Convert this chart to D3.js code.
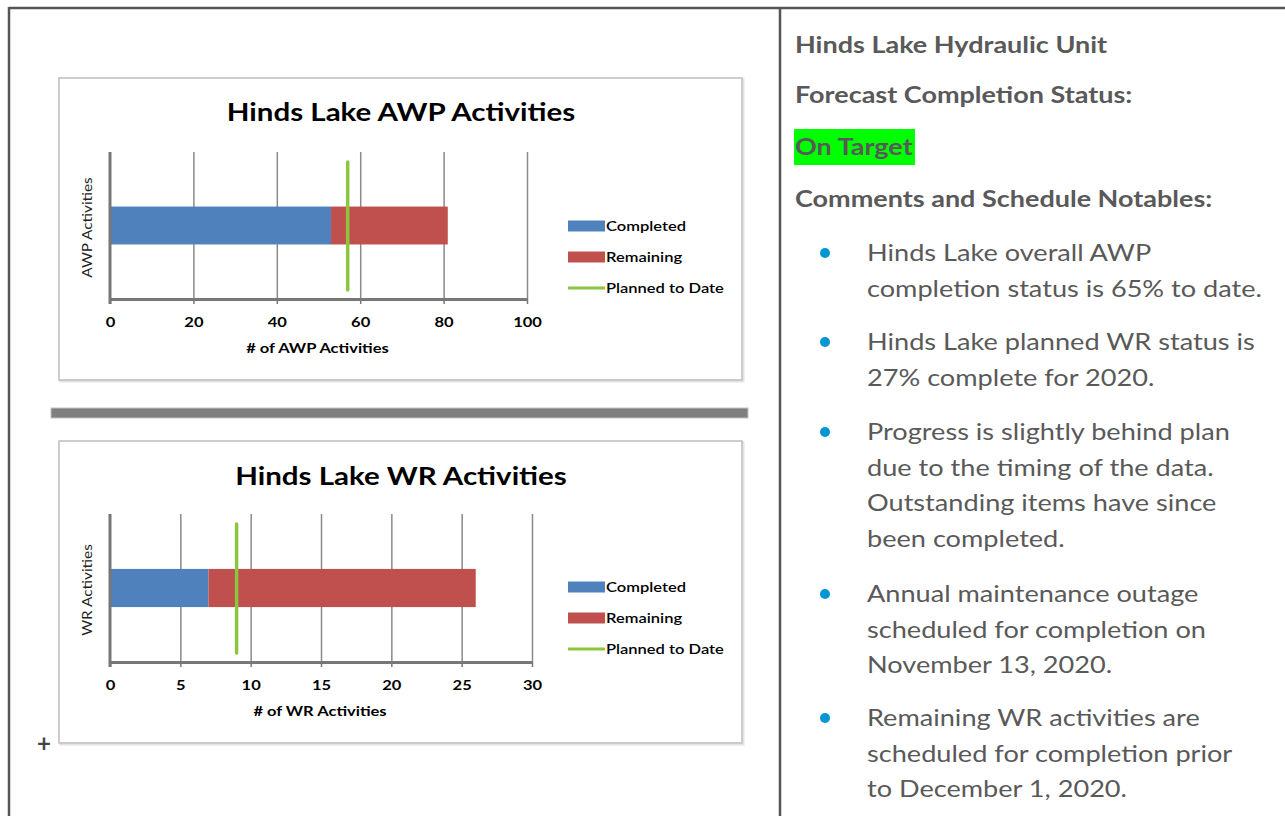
<!DOCTYPE html>
<html>
<head>
<meta charset="utf-8">
<script src="https://cdn.jsdelivr.net/npm/d3@7"></script>
<style>
  body { margin: 0; background: #fff; }
  svg { display: block; font-family: Lato, "Open Sans", sans-serif; }
</style>
</head>
<body>
<svg id="page" width="1285" height="816"></svg>
<script>
// chart data
const seriesNames = ["Completed", "Remaining", "Planned to Date"];
const seriesColors = ["#4f81bd", "#c0504d", "#8cc63f"];

const awpCategory = ["AWP Activities"];
const awpValues = [53, 28];      // completed, remaining
const awpPlanned = [57];
const awpTicks = [0, 20, 40, 60, 80, 100];

const wrCategory = ["WR Activities"];
const wrValues = [7, 19];
const wrPlanned = [9];
const wrTicks = [0, 5, 10, 15, 20, 25, 30];

// side panel text
const headings = ["Hinds Lake Hydraulic Unit", "Forecast Completion Status:", "On Target", "Comments and Schedule Notables:"];
const bullets = [
  ["Hinds Lake overall AWP", "completion status is 65% to date."],
  ["Hinds Lake planned WR status is", "27% complete for 2020."],
  ["Progress is slightly behind plan", "due to the timing of the data.", "Outstanding items have since", "been completed."],
  ["Annual maintenance outage", "scheduled for completion on", "November 13, 2020."],
  ["Remaining WR activities are", "scheduled for completion prior", "to December 1, 2020."]
];

// the reference font runs wider than Lato, so text is stretched sideways
const SX = 1.18;

const svg = d3.select("#page");

function label(parent, x, y, txt, sx) {
  return parent.append("text")
    .attr("transform", `translate(${x},${y}) scale(${sx || SX},1)`)
    .text(txt);
}

// page frame
svg.append("line").attr("x1", 9).attr("x2", 1285).attr("y1", 8).attr("y2", 8)
  .attr("stroke", "#555").attr("stroke-width", 2.5);
svg.append("line").attr("x1", 9).attr("x2", 9).attr("y1", 7).attr("y2", 816)
  .attr("stroke", "#555").attr("stroke-width", 2.5);
svg.append("line").attr("x1", 780).attr("x2", 780).attr("y1", 7).attr("y2", 816)
  .attr("stroke", "#555").attr("stroke-width", 2.5);

// separator between the two charts
svg.append("rect").attr("x", 51).attr("y", 408).attr("width", 697).attr("height", 10)
  .attr("fill", "#7f7f7f").attr("stroke", "#c4c4c4").attr("stroke-width", 1);

svg.append("text").attr("x", 44).attr("y", 752).attr("text-anchor", "middle")
  .attr("font-size", 24).attr("font-weight", "bold").attr("fill", "#444").text("+");

function drawChart(opt) {
  const g = svg.append("g");
  // chart area box
  g.append("rect").attr("x", opt.box[0] + 1.5).attr("y", opt.box[1] + 1.5)
    .attr("width", opt.box[2] - opt.box[0]).attr("height", opt.box[3] - opt.box[1])
    .attr("fill", "none").attr("stroke", "#e3e3e3").attr("stroke-width", 2);
  g.append("rect").attr("x", opt.box[0]).attr("y", opt.box[1])
    .attr("width", opt.box[2] - opt.box[0]).attr("height", opt.box[3] - opt.box[1])
    .attr("fill", "#fff").attr("stroke", "#bdbdbd").attr("stroke-width", 1.5);

  label(g, 401, opt.titleY, opt.title).attr("text-anchor", "middle")
    .attr("font-size", 25).attr("font-weight", "bold").attr("fill", "#000");

  const x = d3.scaleLinear().domain([0, opt.max]).range([opt.x0, opt.x1]);
  const y = d3.scaleBand().domain(opt.category).range([opt.top, opt.bottom]).padding(0.59);

  // gridlines
  g.append("g").attr("transform", `translate(0,${opt.bottom})`)
    .call(d3.axisBottom(x).tickValues(opt.ticks.slice(1)).tickSize(-(opt.bottom - opt.top)).tickFormat(""))
    .call(s => s.select(".domain").remove())
    .call(s => s.selectAll("line").attr("stroke", "#8a8a8a").attr("stroke-width", 1.5));

  // stacked bars
  const stack = d3.stack().keys([0, 1])([opt.values]);
  g.selectAll("rect.bar").data(stack).join("rect").attr("class", "bar")
    .attr("x", d => x(d[0][0]))
    .attr("width", d => x(d[0][1]) - x(d[0][0]))
    .attr("y", y(opt.category[0]))
    .attr("height", y.bandwidth())
    .attr("fill", (d, i) => seriesColors[i]);

  // planned to date marker
  g.selectAll("line.plan").data(opt.planned).join("line").attr("class", "plan")
    .attr("x1", d => x(d)).attr("x2", d => x(d))
    .attr("y1", opt.top + 10).attr("y2", opt.bottom - 9)
    .attr("stroke", seriesColors[2]).attr("stroke-width", 3.5).attr("stroke-linecap", "round");

  // axes
  const xAxis = g.append("g").attr("transform", `translate(0,${opt.bottom})`)
    .call(d3.axisBottom(x).tickValues(opt.ticks).tickSize(5).tickSizeOuter(0).tickPadding(13));
  xAxis.select(".domain").attr("stroke", "#777").attr("stroke-width", 3);
  xAxis.selectAll(".tick line").attr("stroke", "#777").attr("stroke-width", 1.5);
  xAxis.selectAll(".tick text").attr("font-family", "Lato, sans-serif").attr("font-size", 14)
    .attr("font-weight", "bold").attr("fill", "#000").attr("transform", `scale(${SX},1)`);

  g.append("line").attr("x1", opt.x0).attr("x2", opt.x0).attr("y1", opt.top).attr("y2", opt.bottom + 5)
    .attr("stroke", "#777").attr("stroke-width", 3);

  label(g, (opt.x0 + opt.x1) / 2 - 1, opt.bottom + 54, opt.xTitle)
    .attr("text-anchor", "middle").attr("font-size", 14).attr("font-weight", "bold").attr("fill", "#000");

  g.append("text")
    .attr("transform", `translate(92,${(opt.top + opt.bottom) / 2 + 2}) rotate(-90) scale(${SX},1)`)
    .attr("text-anchor", "middle").attr("font-size", 13).attr("fill", "#222").text(opt.category[0]);

  // legend
  const leg = g.selectAll("g.leg").data(seriesNames).join("g").attr("class", "leg")
    .attr("transform", (d, i) => `translate(568,${opt.legendY + i * 31})`);
  leg.each(function (d, i) {
    const s = d3.select(this);
    if (i < 2) {
      s.append("rect").attr("x", 0).attr("y", -5.5).attr("width", 37).attr("height", 11).attr("fill", seriesColors[i]);
    } else {
      s.append("line").attr("x1", 0).attr("x2", 37).attr("y1", 0).attr("y2", 0)
        .attr("stroke", seriesColors[2]).attr("stroke-width", 3);
    }
    label(s, 38, 5, d).attr("font-size", 14).attr("font-weight", 600).attr("fill", "#000");
  });
}

drawChart({
  box: [59, 78, 742, 380], title: "Hinds Lake AWP Activities", titleY: 121,
  x0: 110, x1: 527, top: 152, bottom: 299, max: 100, ticks: awpTicks,
  category: awpCategory, values: awpValues, planned: awpPlanned,
  xTitle: "# of AWP Activities", legendY: 226
});

drawChart({
  box: [59, 441, 742, 743], title: "Hinds Lake WR Activities", titleY: 485,
  x0: 110, x1: 532, top: 514, bottom: 662, max: 30, ticks: wrTicks,
  category: wrCategory, values: wrValues, planned: wrPlanned,
  xTitle: "# of WR Activities", legendY: 587
});

// side panel
const side = svg.append("g").attr("fill", "#595959");
side.append("rect").attr("x", 794).attr("y", 129).attr("width", 121).attr("height", 36).attr("fill", "#00ff00");
const headY = [53, 103, 155, 207];
headings.forEach((t, i) => {
  label(side, 795, headY[i], t, 1.2).attr("font-size", 22.5).attr("font-weight", "bold");
});

const bulletStart = [261, 350, 440, 602, 726];
const lineGap = 35.7;
bullets.forEach((lines, i) => {
  side.append("circle").attr("cx", 825).attr("cy", bulletStart[i] - 8).attr("r", 5).attr("fill", "#0095d5");
  lines.forEach((t, j) => {
    label(side, 867, bulletStart[i] + j * lineGap, t).attr("font-size", 23);
  });
});
</script>
</body>
</html>
